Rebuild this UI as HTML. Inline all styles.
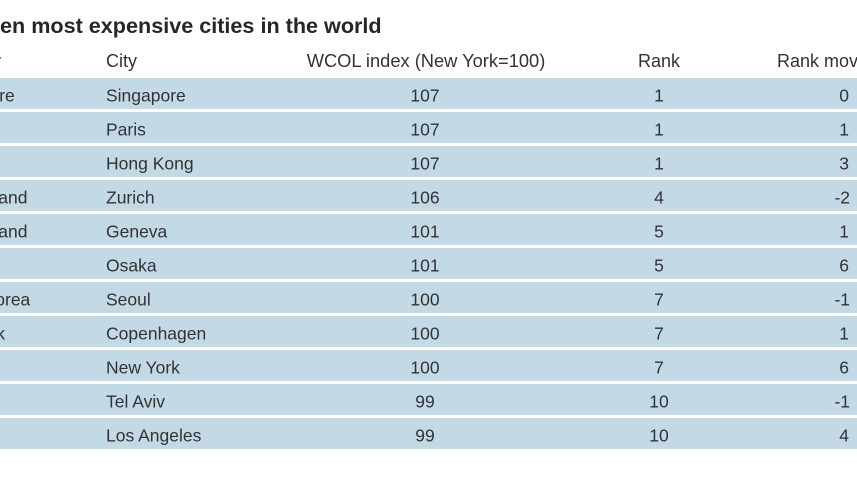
<!DOCTYPE html>
<html>
<head>
<meta charset="utf-8">
<style>
  html, body { margin: 0; padding: 0; background: #ffffff; }
  svg { display: block; }
  text { font-family: "Liberation Sans", Arial, sans-serif; }
</style>
</head>
<body>
<svg width="857" height="482" viewBox="0 0 857 482" xmlns="http://www.w3.org/2000/svg">
  <rect x="0" y="0" width="857" height="482" fill="#ffffff"/>

  <!-- Title -->
  <text x="0" y="33" font-size="21.6" font-weight="bold" fill="#262626">en most expensive cities in the world</text>

  <!-- Header -->
  <g font-size="18" fill="#333333">
    <text x="-62" y="67">Country</text>
    <text x="106" y="67">City</text>
    <text x="426" y="67" text-anchor="middle" font-size="18.3">WCOL index (New York=100)</text>
    <text x="659" y="67" text-anchor="middle">Rank</text>
    <text x="777" y="67">Rank movement</text>
  </g>

  <!-- Row backgrounds -->
  <g fill="#c3d9e6">
    <rect x="0" y="78" width="857" height="31"/>
    <rect x="0" y="112" width="857" height="31"/>
    <rect x="0" y="146" width="857" height="31"/>
    <rect x="0" y="180" width="857" height="31"/>
    <rect x="0" y="214" width="857" height="31"/>
    <rect x="0" y="248" width="857" height="31"/>
    <rect x="0" y="282" width="857" height="31"/>
    <rect x="0" y="316" width="857" height="31"/>
    <rect x="0" y="350" width="857" height="31"/>
    <rect x="0" y="384" width="857" height="31"/>
    <rect x="0" y="418" width="857" height="31"/>
  </g>

  <!-- Rows -->
  <g font-size="17.5" fill="#333333">
    <!-- Country -->
    <text x="-65" y="101.5">Singapore</text>
    <text x="-62" y="135.5">France</text>
    <text x="-62" y="169.5">China</text>
    <text x="-63" y="203.5">Switzerland</text>
    <text x="-63" y="237.5">Switzerland</text>
    <text x="-62" y="271.5">Japan</text>
    <text x="-67" y="305.5">South Korea</text>
    <text x="-66" y="339.5">Denmark</text>
    <text x="-62" y="373.5">US</text>
    <text x="-62" y="407.5">Israel</text>
    <text x="-62" y="441.5">US</text>

    <!-- City -->
    <text x="106" y="101.5">Singapore</text>
    <text x="106" y="135.5">Paris</text>
    <text x="106" y="169.5">Hong Kong</text>
    <text x="106" y="203.5">Zurich</text>
    <text x="106" y="237.5">Geneva</text>
    <text x="106" y="271.5">Osaka</text>
    <text x="106" y="305.5">Seoul</text>
    <text x="106" y="339.5">Copenhagen</text>
    <text x="106" y="373.5">New York</text>
    <text x="106" y="407.5">Tel Aviv</text>
    <text x="106" y="441.5">Los Angeles</text>

    <!-- WCOL index -->
    <g text-anchor="middle">
      <text x="425" y="101.5">107</text>
      <text x="425" y="135.5">107</text>
      <text x="425" y="169.5">107</text>
      <text x="425" y="203.5">106</text>
      <text x="425" y="237.5">101</text>
      <text x="425" y="271.5">101</text>
      <text x="425" y="305.5">100</text>
      <text x="425" y="339.5">100</text>
      <text x="425" y="373.5">100</text>
      <text x="425" y="407.5">99</text>
      <text x="425" y="441.5">99</text>
    </g>

    <!-- Rank -->
    <g text-anchor="middle">
      <text x="659" y="101.5">1</text>
      <text x="659" y="135.5">1</text>
      <text x="659" y="169.5">1</text>
      <text x="659" y="203.5">4</text>
      <text x="659" y="237.5">5</text>
      <text x="659" y="271.5">5</text>
      <text x="659" y="305.5">7</text>
      <text x="659" y="339.5">7</text>
      <text x="659" y="373.5">7</text>
      <text x="659" y="407.5">10</text>
      <text x="659" y="441.5">10</text>
    </g>

    <!-- Rank movement -->
    <g text-anchor="end">
      <text x="849" y="101.5">0</text>
      <text x="849" y="135.5">1</text>
      <text x="849" y="169.5">3</text>
      <text x="850" y="203.5">-2</text>
      <text x="849" y="237.5">1</text>
      <text x="849" y="271.5">6</text>
      <text x="850" y="305.5">-1</text>
      <text x="849" y="339.5">1</text>
      <text x="849" y="373.5">6</text>
      <text x="850" y="407.5">-1</text>
      <text x="849" y="441.5">4</text>
    </g>
  </g>
</svg>
</body>
</html>
